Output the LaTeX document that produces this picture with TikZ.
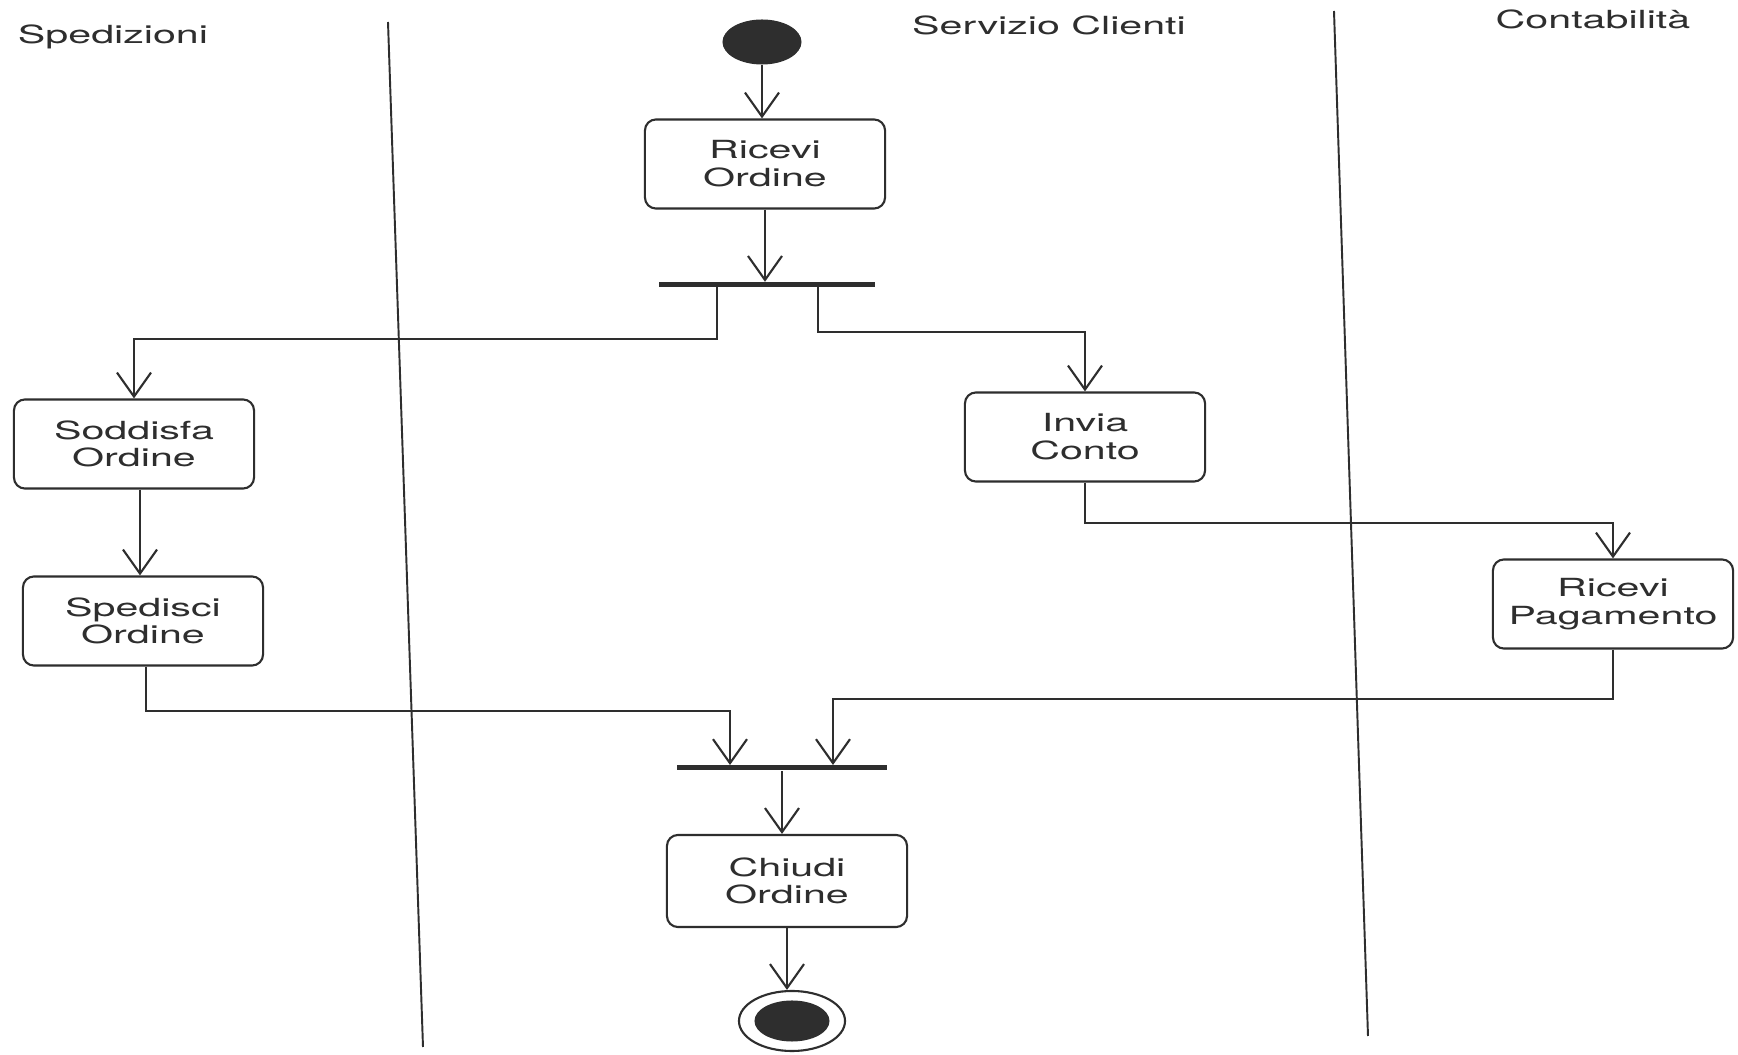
\documentclass[tikz,border=0pt]{standalone}
\usepackage{fontspec}
\setmainfont{TeX Gyre Heros}[FakeStretch=1.65]
\usetikzlibrary{arrows.meta,shapes.geometric}
\definecolor{ink}{HTML}{2E2E2E}
\tikzset{
  x=0.01cm,y=-0.01cm,
  every node/.style={text=ink,font=\fontsize{7.1pt}{7.9pt}\selectfont},
  act/.style={draw=ink,line width=0.6pt,rounded corners=0.11cm,align=center,
    minimum width=2.4cm,minimum height=0.89cm,inner sep=0pt,fill=white},
  bar/.style={fill=ink,draw=none,minimum width=2.12cm,minimum height=0.05cm,inner sep=0pt},
  lane/.style={draw=ink,line width=0.55pt},
  arr/.style={draw=ink,line width=0.6pt,-{Straight Barb[length=0.24cm,width=0.34cm]}},
  lbl/.style={inner sep=0pt}
}
\begin{document}
\begin{tikzpicture}
\useasboundingbox (0,0) rectangle (1738,1055);
\fill[white] (0,0) rectangle (1738,1055);
% swimlane separators
\draw[lane] (388,22) -- (423,1047);
\draw[lane] (1334,11) -- (1368,1036);
% lane titles
\node[lbl] (l1) at (113,37) {Spedizioni};
\node[lbl] (l2) at (1049,25) {Servizio Clienti};
\node[lbl] (l3) at (1593,19) {Contabilità};
% nodes
\node[ellipse,fill=ink,draw=none,minimum width=0.79cm,minimum height=0.45cm,inner sep=0pt] (start) at (762,42) {};
\node[act] (ricevi) at (765,164) {Ricevi\\Ordine};
\node[bar,minimum width=2.15cm] (fork) at (767,285) {};
\node[act] (soddisfa) at (134,444) {Soddisfa\\Ordine};
\node[act] (spedisci) at (143,621) {Spedisci\\Ordine};
\node[act] (invia) at (1085,437) {Invia\\Conto};
\node[act] (pagamento) at (1613,604) {Ricevi\\Pagamento};
\node[bar,minimum width=2.1cm] (join) at (782,768) {};
\node[act,minimum height=0.92cm] (chiudi) at (787,881) {Chiudi\\Ordine};
\node[ellipse,draw=ink,line width=0.6pt,fill=white,minimum width=1.06cm,minimum height=0.6cm,inner sep=0pt] (endo) at (792,1021) {};
\node[ellipse,fill=ink,draw=none,minimum width=0.75cm,minimum height=0.41cm,inner sep=0pt] (endi) at (792,1021) {};
% fork/join attach points
\coordinate (f1) at (717,287);
\coordinate (f2) at (818,287);
\coordinate (j1) at (730,765);
\coordinate (j2) at (833,765);
% connectors
\draw[arr] (start) -- (start |- ricevi.north);
\draw[arr] (ricevi.south) -- (ricevi.south |- fork.north);
\draw[arr] (f1) -- ++(0,52) -| (soddisfa.north);
\draw[arr] (f2) -- ++(0,45) -| (invia.north);
\draw[arr] ([xshift=0.06cm]soddisfa.south) -- ([xshift=0.06cm]soddisfa.south |- spedisci.north);
\draw[arr] (invia.south) -- ++(0,40) -| (pagamento.north);
\draw[arr] ([xshift=0.03cm]spedisci.south) -- ++(0,44) -| (j1);
\draw[arr] (pagamento.south) -- ++(0,49) -| (j2);
\draw[arr] (join.south) -- (join.south |- chiudi.north);
\draw[arr] (chiudi.south) -- (chiudi.south |- endo.north);
\end{tikzpicture}
\end{document}
